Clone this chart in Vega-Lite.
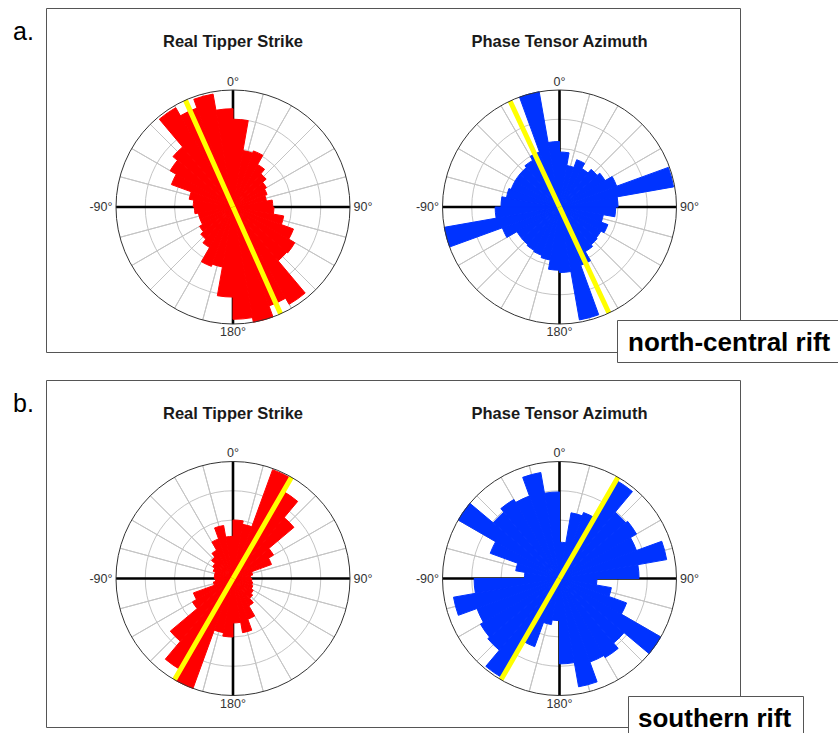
{
  "$schema": "https://vega.github.io/schema/vega-lite/v6.json",
  "width": 838,
  "height": 733,
  "autosize": "none",
  "padding": 0,
  "background": "white",
  "config": {"view": {"stroke": null}, "text": {"font": "Liberation Sans"}},
  "datasets": {
    "bins": [
      {"rose":"a1","from":0,"to":10,"len":0.75},{"rose":"a1","from":10,"to":20,"len":0.49},{"rose":"a1","from":20,"to":30,"len":0.51},{"rose":"a1","from":30,"to":40,"len":0.42},
      {"rose":"a1","from":40,"to":50,"len":0.37},{"rose":"a1","from":50,"to":60,"len":0.33},{"rose":"a1","from":60,"to":70,"len":0.31},{"rose":"a1","from":70,"to":80,"len":0.29},
      {"rose":"a1","from":80,"to":90,"len":0.34},{"rose":"a1","from":90,"to":100,"len":0.35},{"rose":"a1","from":100,"to":110,"len":0.44},{"rose":"a1","from":110,"to":120,"len":0.55},
      {"rose":"a1","from":120,"to":130,"len":0.61},{"rose":"a1","from":130,"to":140,"len":0.6},{"rose":"a1","from":140,"to":150,"len":0.96},{"rose":"a1","from":150,"to":160,"len":0.9},
      {"rose":"a1","from":160,"to":170,"len":1.0},{"rose":"a1","from":170,"to":180,"len":0.96},{"rose":"a1","from":180,"to":190,"len":0.77},{"rose":"a1","from":190,"to":200,"len":0.52},
      {"rose":"a1","from":200,"to":210,"len":0.54},{"rose":"a1","from":210,"to":220,"len":0.4},{"rose":"a1","from":220,"to":230,"len":0.36},{"rose":"a1","from":230,"to":240,"len":0.33},
      {"rose":"a1","from":240,"to":250,"len":0.3},{"rose":"a1","from":250,"to":260,"len":0.3},{"rose":"a1","from":260,"to":270,"len":0.33},{"rose":"a1","from":270,"to":280,"len":0.34},
      {"rose":"a1","from":280,"to":290,"len":0.38},{"rose":"a1","from":290,"to":300,"len":0.56},{"rose":"a1","from":300,"to":310,"len":0.62},{"rose":"a1","from":310,"to":320,"len":0.67},
      {"rose":"a1","from":320,"to":330,"len":0.98},{"rose":"a1","from":330,"to":340,"len":0.9},{"rose":"a1","from":340,"to":350,"len":0.98},{"rose":"a1","from":350,"to":360,"len":0.84},

      {"rose":"a2","from":0,"to":10,"len":0.47},{"rose":"a2","from":10,"to":20,"len":0.36},{"rose":"a2","from":20,"to":30,"len":0.43},{"rose":"a2","from":30,"to":40,"len":0.38},
      {"rose":"a2","from":40,"to":50,"len":0.42},{"rose":"a2","from":50,"to":60,"len":0.45},{"rose":"a2","from":60,"to":70,"len":0.52},{"rose":"a2","from":70,"to":80,"len":0.99},
      {"rose":"a2","from":80,"to":90,"len":0.5},{"rose":"a2","from":90,"to":100,"len":0.48},{"rose":"a2","from":100,"to":110,"len":0.38},{"rose":"a2","from":110,"to":120,"len":0.44},
      {"rose":"a2","from":120,"to":130,"len":0.41},{"rose":"a2","from":130,"to":140,"len":0.42},{"rose":"a2","from":140,"to":150,"len":0.44},{"rose":"a2","from":150,"to":160,"len":0.53},
      {"rose":"a2","from":160,"to":170,"len":0.98},{"rose":"a2","from":170,"to":180,"len":0.56},{"rose":"a2","from":180,"to":190,"len":0.54},{"rose":"a2","from":190,"to":200,"len":0.46},
      {"rose":"a2","from":200,"to":210,"len":0.44},{"rose":"a2","from":210,"to":220,"len":0.43},{"rose":"a2","from":220,"to":230,"len":0.42},{"rose":"a2","from":230,"to":240,"len":0.42},
      {"rose":"a2","from":240,"to":250,"len":0.52},{"rose":"a2","from":250,"to":260,"len":1.0},{"rose":"a2","from":260,"to":270,"len":0.55},{"rose":"a2","from":270,"to":280,"len":0.5},
      {"rose":"a2","from":280,"to":290,"len":0.46},{"rose":"a2","from":290,"to":300,"len":0.44},{"rose":"a2","from":300,"to":310,"len":0.44},{"rose":"a2","from":310,"to":320,"len":0.44},
      {"rose":"a2","from":320,"to":330,"len":0.46},{"rose":"a2","from":330,"to":340,"len":0.5},{"rose":"a2","from":340,"to":350,"len":1.0},{"rose":"a2","from":350,"to":360,"len":0.56},

      {"rose":"b1","from":0,"to":10,"len":0.5},{"rose":"b1","from":10,"to":20,"len":0.47},{"rose":"b1","from":20,"to":30,"len":0.99},{"rose":"b1","from":30,"to":40,"len":0.86},
      {"rose":"b1","from":40,"to":50,"len":0.68},{"rose":"b1","from":50,"to":60,"len":0.4},{"rose":"b1","from":60,"to":70,"len":0.35},{"rose":"b1","from":70,"to":80,"len":0.17},
      {"rose":"b1","from":80,"to":90,"len":0.15},{"rose":"b1","from":90,"to":100,"len":0.16},{"rose":"b1","from":100,"to":110,"len":0.17},{"rose":"b1","from":110,"to":120,"len":0.18},
      {"rose":"b1","from":120,"to":130,"len":0.2},{"rose":"b1","from":130,"to":140,"len":0.22},{"rose":"b1","from":140,"to":150,"len":0.27},{"rose":"b1","from":150,"to":160,"len":0.37},
      {"rose":"b1","from":160,"to":170,"len":0.47},{"rose":"b1","from":170,"to":180,"len":0.38},{"rose":"b1","from":180,"to":190,"len":0.5},{"rose":"b1","from":190,"to":200,"len":0.47},
      {"rose":"b1","from":200,"to":210,"len":1.0},{"rose":"b1","from":210,"to":220,"len":0.9},{"rose":"b1","from":220,"to":230,"len":0.7},{"rose":"b1","from":230,"to":240,"len":0.4},
      {"rose":"b1","from":240,"to":250,"len":0.36},{"rose":"b1","from":250,"to":260,"len":0.17},{"rose":"b1","from":260,"to":270,"len":0.15},{"rose":"b1","from":270,"to":280,"len":0.16},
      {"rose":"b1","from":280,"to":290,"len":0.16},{"rose":"b1","from":290,"to":300,"len":0.18},{"rose":"b1","from":300,"to":310,"len":0.2},{"rose":"b1","from":310,"to":320,"len":0.24},
      {"rose":"b1","from":320,"to":330,"len":0.28},{"rose":"b1","from":330,"to":340,"len":0.36},{"rose":"b1","from":340,"to":350,"len":0.46},{"rose":"b1","from":350,"to":360,"len":0.36},

      {"rose":"b2","from":0,"to":10,"len":0.31},{"rose":"b2","from":10,"to":20,"len":0.57},{"rose":"b2","from":20,"to":30,"len":0.6},{"rose":"b2","from":30,"to":40,"len":0.97},
      {"rose":"b2","from":40,"to":50,"len":0.74},{"rose":"b2","from":50,"to":60,"len":0.76},{"rose":"b2","from":60,"to":70,"len":0.7},{"rose":"b2","from":70,"to":80,"len":0.93},
      {"rose":"b2","from":80,"to":90,"len":0.68},{"rose":"b2","from":90,"to":100,"len":0.32},{"rose":"b2","from":100,"to":110,"len":0.45},{"rose":"b2","from":110,"to":120,"len":0.61},
      {"rose":"b2","from":120,"to":130,"len":1.0},{"rose":"b2","from":130,"to":140,"len":0.72},{"rose":"b2","from":140,"to":150,"len":0.78},{"rose":"b2","from":150,"to":160,"len":0.76},
      {"rose":"b2","from":160,"to":170,"len":0.94},{"rose":"b2","from":170,"to":180,"len":0.73},{"rose":"b2","from":180,"to":190,"len":0.36},{"rose":"b2","from":190,"to":200,"len":0.4},
      {"rose":"b2","from":200,"to":210,"len":0.62},{"rose":"b2","from":210,"to":220,"len":0.98},{"rose":"b2","from":220,"to":230,"len":0.8},{"rose":"b2","from":230,"to":240,"len":0.78},
      {"rose":"b2","from":240,"to":250,"len":0.75},{"rose":"b2","from":250,"to":260,"len":0.92},{"rose":"b2","from":260,"to":270,"len":0.73},{"rose":"b2","from":270,"to":280,"len":0.3},
      {"rose":"b2","from":280,"to":290,"len":0.38},{"rose":"b2","from":290,"to":300,"len":0.63},{"rose":"b2","from":300,"to":310,"len":1.0},{"rose":"b2","from":310,"to":320,"len":0.74},
      {"rose":"b2","from":320,"to":330,"len":0.78},{"rose":"b2","from":330,"to":340,"len":0.75},{"rose":"b2","from":340,"to":350,"len":0.92},{"rose":"b2","from":350,"to":360,"len":0.74}
    ],
    "strike": [
      {"rose":"a1","deg":336},{"rose":"a1","deg":156},
      {"rose":"a2","deg":335},{"rose":"a2","deg":155},
      {"rose":"b1","deg":30},{"rose":"b1","deg":210},
      {"rose":"b2","deg":30},{"rose":"b2","deg":210}
    ],
    "rings": [{"r":0.25},{"r":0.5},{"r":0.75}],
    "spokes": [
      {"deg":0},{"deg":15},{"deg":30},{"deg":45},{"deg":60},{"deg":75},{"deg":90},{"deg":105},
      {"deg":120},{"deg":135},{"deg":150},{"deg":165},{"deg":180},{"deg":195},{"deg":210},{"deg":225},
      {"deg":240},{"deg":255},{"deg":270},{"deg":285},{"deg":300},{"deg":315},{"deg":330},{"deg":345}
    ],
    "cross": [{"deg":0},{"deg":90},{"deg":180},{"deg":270}],
    "ticks": [{"deg":0,"t":"0°"},{"deg":90,"t":"90°"},{"deg":180,"t":"180°"},{"deg":270,"t":"-90°"}]
  },
  "layer": [
    {
      "data": {"values": [{}]},
      "mark": {"type": "rect", "filled": false, "stroke": "#555555", "strokeWidth": 1},
      "encoding": {
        "x": {"datum": 46.5, "type": "quantitative", "scale": {"domain": [0, 838], "nice": false, "zero": false}, "axis": null},
        "x2": {"datum": 740.5},
        "y": {"datum": 8.5, "type": "quantitative", "scale": {"domain": [0, 733], "nice": false, "zero": false, "reverse": true}, "axis": null},
        "y2": {"datum": 352.5}
      }
    },
    {
      "data": {"values": [{}]},
      "mark": {"type": "rect", "filled": false, "stroke": "#555555", "strokeWidth": 1},
      "encoding": {
        "x": {"datum": 46.5, "type": "quantitative", "scale": {"domain": [0, 838], "nice": false, "zero": false}, "axis": null},
        "x2": {"datum": 740.5},
        "y": {"datum": 380.5, "type": "quantitative", "scale": {"domain": [0, 733], "nice": false, "zero": false, "reverse": true}, "axis": null},
        "y2": {"datum": 727.5}
      }
    },

    {
      "encoding": {
        "x": {"datum": 233, "type": "quantitative", "scale": {"domain": [0, 838], "nice": false, "zero": false}, "axis": null},
        "y": {"datum": 207, "type": "quantitative", "scale": {"domain": [0, 733], "nice": false, "zero": false, "reverse": true}, "axis": null}
      },
      "layer": [
        {"data": {"name": "rings"}, "mark": {"type": "arc", "filled": false, "stroke": "#c4c4c4", "strokeWidth": 1},
         "encoding": {"theta": {"datum": 0, "type": "quantitative", "scale": {"domain": [0, 360], "range": [0, 6.283185307179586], "nice": false}, "stack": null}, "theta2": {"datum": 360},
                      "radius": {"field": "r", "type": "quantitative", "scale": {"type": "linear", "domain": [0, 1], "range": [0, 117], "nice": false, "zero": true}, "stack": null}}},
        {"data": {"name": "spokes"}, "mark": {"type": "arc", "filled": false, "stroke": "#c4c4c4", "strokeWidth": 1},
         "encoding": {"theta": {"field": "deg", "type": "quantitative", "stack": null}, "theta2": {"field": "deg"}, "radius": {"datum": 1, "type": "quantitative", "stack": null}}},
        {"data": {"name": "cross"}, "mark": {"type": "arc", "filled": false, "stroke": "#000000", "strokeWidth": 2.6},
         "encoding": {"theta": {"field": "deg", "type": "quantitative", "stack": null}, "theta2": {"field": "deg"}, "radius": {"datum": 1, "type": "quantitative", "stack": null}}},
        {"data": {"name": "bins"}, "transform": [{"filter": "datum.rose === 'a1'"}],
         "mark": {"type": "arc", "fill": "#ff0000", "stroke": "#ff0000", "strokeWidth": 1, "strokeJoin": "bevel"},
         "encoding": {"theta": {"field": "from", "type": "quantitative", "stack": null}, "theta2": {"field": "to"}, "radius": {"field": "len", "type": "quantitative", "stack": null}}},
        {"data": {"name": "strike"}, "transform": [{"filter": "datum.rose === 'a1'"}],
         "mark": {"type": "arc", "filled": false, "stroke": "#ffff00", "strokeWidth": 5},
         "encoding": {"theta": {"field": "deg", "type": "quantitative", "stack": null}, "theta2": {"field": "deg"}, "radius": {"datum": 1, "type": "quantitative", "stack": null}}},
        {"data": {"values": [{}]}, "mark": {"type": "arc", "filled": false, "stroke": "#333333", "strokeWidth": 1},
         "encoding": {"theta": {"datum": 0, "type": "quantitative", "stack": null}, "theta2": {"datum": 360}, "radius": {"datum": 1, "type": "quantitative", "stack": null}}},
        {"data": {"name": "ticks"}, "transform": [{"filter": "datum.deg === 0 || datum.deg === 180"}],
         "mark": {"type": "text", "fontSize": 12.5, "color": "#333333", "align": "center", "baseline": "middle"},
         "encoding": {"theta": {"field": "deg", "type": "quantitative", "stack": null}, "radius": {"datum": 1.07, "type": "quantitative"}, "text": {"field": "t"}}},
        {"data": {"name": "ticks"}, "transform": [{"filter": "datum.deg === 90"}],
         "mark": {"type": "text", "fontSize": 12.5, "color": "#333333", "align": "left", "baseline": "middle"},
         "encoding": {"theta": {"field": "deg", "type": "quantitative", "stack": null}, "radius": {"datum": 1.03, "type": "quantitative"}, "text": {"field": "t"}}},
        {"data": {"name": "ticks"}, "transform": [{"filter": "datum.deg === 270"}],
         "mark": {"type": "text", "fontSize": 12.5, "color": "#333333", "align": "right", "baseline": "middle"},
         "encoding": {"theta": {"field": "deg", "type": "quantitative", "stack": null}, "radius": {"datum": 1.03, "type": "quantitative"}, "text": {"field": "t"}}},
        {"data": {"values": [{}]},
         "mark": {"type": "text", "fontSize": 16.5, "fontWeight": "bold", "color": "#1a1a1a", "align": "center", "baseline": "alphabetic"},
         "encoding": {"y": {"datum": 47, "type": "quantitative"}, "text": {"value": "Real Tipper Strike"}}}
      ]
    },

    {
      "encoding": {
        "x": {"datum": 559.5, "type": "quantitative", "scale": {"domain": [0, 838], "nice": false, "zero": false}, "axis": null},
        "y": {"datum": 207, "type": "quantitative", "scale": {"domain": [0, 733], "nice": false, "zero": false, "reverse": true}, "axis": null}
      },
      "layer": [
        {"data": {"name": "rings"}, "mark": {"type": "arc", "filled": false, "stroke": "#c4c4c4", "strokeWidth": 1},
         "encoding": {"theta": {"datum": 0, "type": "quantitative", "stack": null}, "theta2": {"datum": 360}, "radius": {"field": "r", "type": "quantitative", "stack": null}}},
        {"data": {"name": "spokes"}, "mark": {"type": "arc", "filled": false, "stroke": "#c4c4c4", "strokeWidth": 1},
         "encoding": {"theta": {"field": "deg", "type": "quantitative", "stack": null}, "theta2": {"field": "deg"}, "radius": {"datum": 1, "type": "quantitative", "stack": null}}},
        {"data": {"name": "cross"}, "mark": {"type": "arc", "filled": false, "stroke": "#000000", "strokeWidth": 2.6},
         "encoding": {"theta": {"field": "deg", "type": "quantitative", "stack": null}, "theta2": {"field": "deg"}, "radius": {"datum": 1, "type": "quantitative", "stack": null}}},
        {"data": {"name": "bins"}, "transform": [{"filter": "datum.rose === 'a2'"}],
         "mark": {"type": "arc", "fill": "#0033ff", "stroke": "#0033ff", "strokeWidth": 1, "strokeJoin": "bevel"},
         "encoding": {"theta": {"field": "from", "type": "quantitative", "stack": null}, "theta2": {"field": "to"}, "radius": {"field": "len", "type": "quantitative", "stack": null}}},
        {"data": {"name": "strike"}, "transform": [{"filter": "datum.rose === 'a2'"}],
         "mark": {"type": "arc", "filled": false, "stroke": "#ffff00", "strokeWidth": 5},
         "encoding": {"theta": {"field": "deg", "type": "quantitative", "stack": null}, "theta2": {"field": "deg"}, "radius": {"datum": 1, "type": "quantitative", "stack": null}}},
        {"data": {"values": [{}]}, "mark": {"type": "arc", "filled": false, "stroke": "#333333", "strokeWidth": 1},
         "encoding": {"theta": {"datum": 0, "type": "quantitative", "stack": null}, "theta2": {"datum": 360}, "radius": {"datum": 1, "type": "quantitative", "stack": null}}},
        {"data": {"name": "ticks"}, "transform": [{"filter": "datum.deg === 0 || datum.deg === 180"}],
         "mark": {"type": "text", "fontSize": 12.5, "color": "#333333", "align": "center", "baseline": "middle"},
         "encoding": {"theta": {"field": "deg", "type": "quantitative", "stack": null}, "radius": {"datum": 1.07, "type": "quantitative"}, "text": {"field": "t"}}},
        {"data": {"name": "ticks"}, "transform": [{"filter": "datum.deg === 90"}],
         "mark": {"type": "text", "fontSize": 12.5, "color": "#333333", "align": "left", "baseline": "middle"},
         "encoding": {"theta": {"field": "deg", "type": "quantitative", "stack": null}, "radius": {"datum": 1.03, "type": "quantitative"}, "text": {"field": "t"}}},
        {"data": {"name": "ticks"}, "transform": [{"filter": "datum.deg === 270"}],
         "mark": {"type": "text", "fontSize": 12.5, "color": "#333333", "align": "right", "baseline": "middle"},
         "encoding": {"theta": {"field": "deg", "type": "quantitative", "stack": null}, "radius": {"datum": 1.03, "type": "quantitative"}, "text": {"field": "t"}}},
        {"data": {"values": [{}]},
         "mark": {"type": "text", "fontSize": 16.5, "fontWeight": "bold", "color": "#1a1a1a", "align": "center", "baseline": "alphabetic"},
         "encoding": {"y": {"datum": 47, "type": "quantitative"}, "text": {"value": "Phase Tensor Azimuth"}}}
      ]
    },

    {
      "encoding": {
        "x": {"datum": 233, "type": "quantitative", "scale": {"domain": [0, 838], "nice": false, "zero": false}, "axis": null},
        "y": {"datum": 578.5, "type": "quantitative", "scale": {"domain": [0, 733], "nice": false, "zero": false, "reverse": true}, "axis": null}
      },
      "layer": [
        {"data": {"name": "rings"}, "mark": {"type": "arc", "filled": false, "stroke": "#c4c4c4", "strokeWidth": 1},
         "encoding": {"theta": {"datum": 0, "type": "quantitative", "stack": null}, "theta2": {"datum": 360}, "radius": {"field": "r", "type": "quantitative", "stack": null}}},
        {"data": {"name": "spokes"}, "mark": {"type": "arc", "filled": false, "stroke": "#c4c4c4", "strokeWidth": 1},
         "encoding": {"theta": {"field": "deg", "type": "quantitative", "stack": null}, "theta2": {"field": "deg"}, "radius": {"datum": 1, "type": "quantitative", "stack": null}}},
        {"data": {"name": "cross"}, "mark": {"type": "arc", "filled": false, "stroke": "#000000", "strokeWidth": 2.6},
         "encoding": {"theta": {"field": "deg", "type": "quantitative", "stack": null}, "theta2": {"field": "deg"}, "radius": {"datum": 1, "type": "quantitative", "stack": null}}},
        {"data": {"name": "bins"}, "transform": [{"filter": "datum.rose === 'b1'"}],
         "mark": {"type": "arc", "fill": "#ff0000", "stroke": "#ff0000", "strokeWidth": 1, "strokeJoin": "bevel"},
         "encoding": {"theta": {"field": "from", "type": "quantitative", "stack": null}, "theta2": {"field": "to"}, "radius": {"field": "len", "type": "quantitative", "stack": null}}},
        {"data": {"name": "strike"}, "transform": [{"filter": "datum.rose === 'b1'"}],
         "mark": {"type": "arc", "filled": false, "stroke": "#ffff00", "strokeWidth": 5},
         "encoding": {"theta": {"field": "deg", "type": "quantitative", "stack": null}, "theta2": {"field": "deg"}, "radius": {"datum": 1, "type": "quantitative", "stack": null}}},
        {"data": {"values": [{}]}, "mark": {"type": "arc", "filled": false, "stroke": "#333333", "strokeWidth": 1},
         "encoding": {"theta": {"datum": 0, "type": "quantitative", "stack": null}, "theta2": {"datum": 360}, "radius": {"datum": 1, "type": "quantitative", "stack": null}}},
        {"data": {"name": "ticks"}, "transform": [{"filter": "datum.deg === 0 || datum.deg === 180"}],
         "mark": {"type": "text", "fontSize": 12.5, "color": "#333333", "align": "center", "baseline": "middle"},
         "encoding": {"theta": {"field": "deg", "type": "quantitative", "stack": null}, "radius": {"datum": 1.07, "type": "quantitative"}, "text": {"field": "t"}}},
        {"data": {"name": "ticks"}, "transform": [{"filter": "datum.deg === 90"}],
         "mark": {"type": "text", "fontSize": 12.5, "color": "#333333", "align": "left", "baseline": "middle"},
         "encoding": {"theta": {"field": "deg", "type": "quantitative", "stack": null}, "radius": {"datum": 1.03, "type": "quantitative"}, "text": {"field": "t"}}},
        {"data": {"name": "ticks"}, "transform": [{"filter": "datum.deg === 270"}],
         "mark": {"type": "text", "fontSize": 12.5, "color": "#333333", "align": "right", "baseline": "middle"},
         "encoding": {"theta": {"field": "deg", "type": "quantitative", "stack": null}, "radius": {"datum": 1.03, "type": "quantitative"}, "text": {"field": "t"}}},
        {"data": {"values": [{}]},
         "mark": {"type": "text", "fontSize": 16.5, "fontWeight": "bold", "color": "#1a1a1a", "align": "center", "baseline": "alphabetic"},
         "encoding": {"y": {"datum": 418.5, "type": "quantitative"}, "text": {"value": "Real Tipper Strike"}}}
      ]
    },

    {
      "encoding": {
        "x": {"datum": 559.5, "type": "quantitative", "scale": {"domain": [0, 838], "nice": false, "zero": false}, "axis": null},
        "y": {"datum": 578.5, "type": "quantitative", "scale": {"domain": [0, 733], "nice": false, "zero": false, "reverse": true}, "axis": null}
      },
      "layer": [
        {"data": {"name": "rings"}, "mark": {"type": "arc", "filled": false, "stroke": "#c4c4c4", "strokeWidth": 1},
         "encoding": {"theta": {"datum": 0, "type": "quantitative", "stack": null}, "theta2": {"datum": 360}, "radius": {"field": "r", "type": "quantitative", "stack": null}}},
        {"data": {"name": "spokes"}, "mark": {"type": "arc", "filled": false, "stroke": "#c4c4c4", "strokeWidth": 1},
         "encoding": {"theta": {"field": "deg", "type": "quantitative", "stack": null}, "theta2": {"field": "deg"}, "radius": {"datum": 1, "type": "quantitative", "stack": null}}},
        {"data": {"name": "cross"}, "mark": {"type": "arc", "filled": false, "stroke": "#000000", "strokeWidth": 2.6},
         "encoding": {"theta": {"field": "deg", "type": "quantitative", "stack": null}, "theta2": {"field": "deg"}, "radius": {"datum": 1, "type": "quantitative", "stack": null}}},
        {"data": {"name": "bins"}, "transform": [{"filter": "datum.rose === 'b2'"}],
         "mark": {"type": "arc", "fill": "#0033ff", "stroke": "#0033ff", "strokeWidth": 1, "strokeJoin": "bevel"},
         "encoding": {"theta": {"field": "from", "type": "quantitative", "stack": null}, "theta2": {"field": "to"}, "radius": {"field": "len", "type": "quantitative", "stack": null}}},
        {"data": {"name": "strike"}, "transform": [{"filter": "datum.rose === 'b2'"}],
         "mark": {"type": "arc", "filled": false, "stroke": "#ffff00", "strokeWidth": 5},
         "encoding": {"theta": {"field": "deg", "type": "quantitative", "stack": null}, "theta2": {"field": "deg"}, "radius": {"datum": 1, "type": "quantitative", "stack": null}}},
        {"data": {"values": [{}]}, "mark": {"type": "arc", "filled": false, "stroke": "#333333", "strokeWidth": 1},
         "encoding": {"theta": {"datum": 0, "type": "quantitative", "stack": null}, "theta2": {"datum": 360}, "radius": {"datum": 1, "type": "quantitative", "stack": null}}},
        {"data": {"name": "ticks"}, "transform": [{"filter": "datum.deg === 0 || datum.deg === 180"}],
         "mark": {"type": "text", "fontSize": 12.5, "color": "#333333", "align": "center", "baseline": "middle"},
         "encoding": {"theta": {"field": "deg", "type": "quantitative", "stack": null}, "radius": {"datum": 1.07, "type": "quantitative"}, "text": {"field": "t"}}},
        {"data": {"name": "ticks"}, "transform": [{"filter": "datum.deg === 90"}],
         "mark": {"type": "text", "fontSize": 12.5, "color": "#333333", "align": "left", "baseline": "middle"},
         "encoding": {"theta": {"field": "deg", "type": "quantitative", "stack": null}, "radius": {"datum": 1.03, "type": "quantitative"}, "text": {"field": "t"}}},
        {"data": {"name": "ticks"}, "transform": [{"filter": "datum.deg === 270"}],
         "mark": {"type": "text", "fontSize": 12.5, "color": "#333333", "align": "right", "baseline": "middle"},
         "encoding": {"theta": {"field": "deg", "type": "quantitative", "stack": null}, "radius": {"datum": 1.03, "type": "quantitative"}, "text": {"field": "t"}}},
        {"data": {"values": [{}]},
         "mark": {"type": "text", "fontSize": 16.5, "fontWeight": "bold", "color": "#1a1a1a", "align": "center", "baseline": "alphabetic"},
         "encoding": {"y": {"datum": 418.5, "type": "quantitative"}, "text": {"value": "Phase Tensor Azimuth"}}}
      ]
    },

    {
      "data": {"values": [{}]},
      "mark": {"type": "rect", "fill": "#ffffff", "stroke": "#555555", "strokeWidth": 1},
      "encoding": {
        "x": {"datum": 617.5, "type": "quantitative", "scale": {"domain": [0, 838], "nice": false, "zero": false}, "axis": null},
        "x2": {"datum": 850},
        "y": {"datum": 320.5, "type": "quantitative", "scale": {"domain": [0, 733], "nice": false, "zero": false, "reverse": true}, "axis": null},
        "y2": {"datum": 362.5}
      }
    },
    {
      "data": {"values": [{}]},
      "mark": {"type": "text", "fontSize": 26, "fontWeight": "bold", "color": "#000000", "align": "left", "baseline": "alphabetic"},
      "encoding": {
        "x": {"datum": 628, "type": "quantitative"},
        "y": {"datum": 351, "type": "quantitative"},
        "text": {"value": "north-central rift"}
      }
    },
    {
      "data": {"values": [{}]},
      "mark": {"type": "rect", "fill": "#ffffff", "stroke": "#555555", "strokeWidth": 1},
      "encoding": {
        "x": {"datum": 628.5, "type": "quantitative"},
        "x2": {"datum": 803.5},
        "y": {"datum": 696.5, "type": "quantitative"},
        "y2": {"datum": 745}
      }
    },
    {
      "data": {"values": [{}]},
      "mark": {"type": "text", "fontSize": 26, "fontWeight": "bold", "color": "#000000", "align": "left", "baseline": "alphabetic"},
      "encoding": {
        "x": {"datum": 638, "type": "quantitative"},
        "y": {"datum": 727, "type": "quantitative"},
        "text": {"value": "southern rift"}
      }
    },
    {
      "data": {"values": [{}]},
      "mark": {"type": "text", "fontSize": 25, "color": "#000000", "align": "left", "baseline": "alphabetic"},
      "encoding": {
        "x": {"datum": 13, "type": "quantitative"},
        "y": {"datum": 39.5, "type": "quantitative"},
        "text": {"value": "a."}
      }
    },
    {
      "data": {"values": [{}]},
      "mark": {"type": "text", "fontSize": 25, "color": "#000000", "align": "left", "baseline": "alphabetic"},
      "encoding": {
        "x": {"datum": 13, "type": "quantitative"},
        "y": {"datum": 412, "type": "quantitative"},
        "text": {"value": "b."}
      }
    }
  ]
}
